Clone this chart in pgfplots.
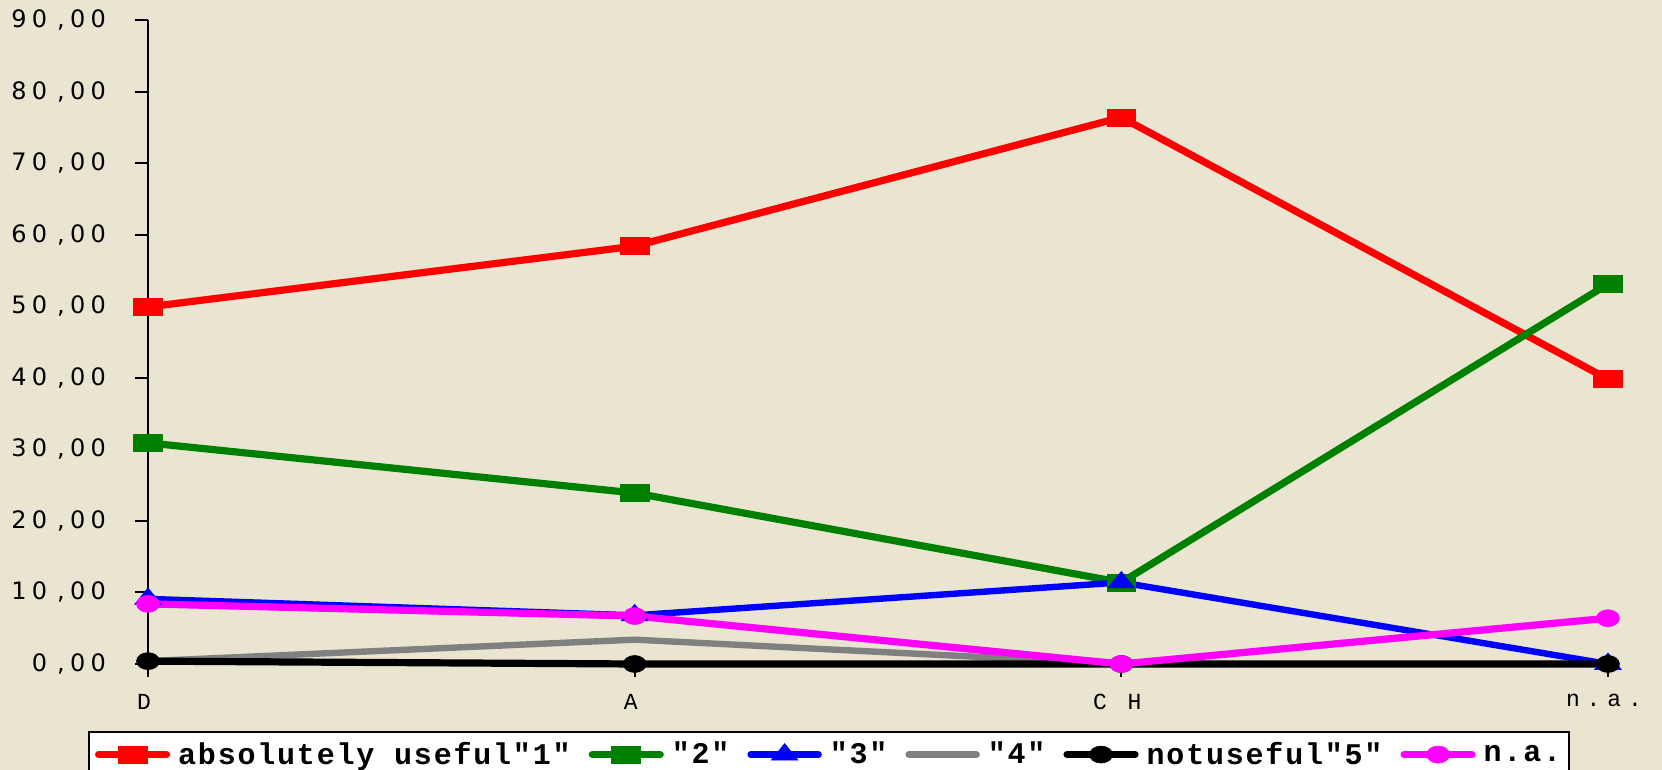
\documentclass[border=0pt]{standalone}
\usepackage{pgfplots}
\pgfplotsset{compat=1.18}
\usepackage{fontspec}
\newfontfamily\yfont{DejaVu Sans}[LetterSpace=22]
\newfontfamily\xfont{Liberation Mono}[LetterSpace=30]
\newfontfamily\legfont{Liberation Mono}[LetterSpace=6]
\definecolor{bg}{RGB}{233,229,209}
\definecolor{cgreen}{RGB}{0,128,0}
\definecolor{cgray}{RGB}{128,128,128}
\definecolor{cmag}{RGB}{255,0,255}
\definecolor{cred}{RGB}{255,0,0}
\definecolor{cblue}{RGB}{0,0,255}
\begin{document}
\begin{tikzpicture}
\useasboundingbox (-74pt,-53pt) rectangle (757pt,332pt);
\fill[bg] (-74pt,-53pt) rectangle (757pt,332pt);
\begin{axis}[
  at={(0pt,0pt)}, anchor=south west,
  scale only axis, width=730pt, height=322pt,
  xmin=0, xmax=3, ymin=0, ymax=90,
  axis x line*=bottom, axis y line*=left,
  axis line style={line width=1pt, black},
  tick style={line width=1pt, black},
  tick align=outside,
  major tick length=6.5pt,
  xtick={0,1,2,3}, xticklabels={D,A,C H,n.a.},
  ytick={0,10,20,30,40,50,60,70,80,90},
  yticklabels={{0\kern5pt,00},{10\kern5pt,00},{20\kern5pt,00},{30\kern5pt,00},{40\kern5pt,00},{50\kern5pt,00},{60\kern5pt,00},{70\kern5pt,00},{80\kern5pt,00},{90\kern5pt,00}},
  xticklabel style={font=\fontsize{11.5}{13}\selectfont\xfont, yshift=-5pt, xshift=-2pt},
  yticklabel style={font=\fontsize{12}{14}\selectfont\yfont, xshift=-11pt},
  clip=false,
  legend columns=-1,
  legend style={at={(-0.0411,-0.104)}, anchor=north west, draw=black, line width=1pt, fill=white,
    font=\fontsize{15}{17}\selectfont\legfont\bfseries,
    nodes={inner xsep=1pt},
    /tikz/every odd column/.append style={column sep=3pt},
    /tikz/every even column/.append style={column sep=8pt},
    inner xsep=3pt, inner ysep=3pt},
  legend image code/.code={\draw[mark repeat=2,mark phase=2,line cap=round] plot coordinates {(0pt,0pt)(17pt,0pt)(34pt,0pt)};},
  every axis plot/.append style={line width=3.6pt},
]
\addplot[cred, mark=square*, mark size=4.25pt, mark options={line width=0.3pt, xscale=1.7, fill=cred, draw=cred}]
  coordinates {(0,49.9)(1,58.4)(2,76.4)(3,39.8)};
\addlegendentry{absolutely useful"1"}
\addplot[cgreen, mark=square*, mark size=4.25pt, mark options={line width=0.3pt, xscale=1.7, fill=cgreen, draw=cgreen}]
  coordinates {(0,30.9)(1,23.9)(2,11.4)(3,53.1)};
\addlegendentry{"2"}
\addplot[cblue, line width=3.2pt, mark=triangle*, mark size=5.5pt, mark options={line width=0.3pt, xscale=1.4, fill=cblue, draw=cblue}]
  coordinates {(0,9.1)(1,6.8)(2,11.4)(3,0)};
\addlegendentry{"3"}
\addplot[cgray, line width=3.2pt, no marks]
  coordinates {(0,0.4)(1,3.4)(2,0)(3,0)};
\addlegendentry{"4"}
\addplot[black, mark=*, mark size=4.25pt, mark options={line width=0.3pt, xscale=1.35, fill=black, draw=black}]
  coordinates {(0,0.4)(1,0)(2,0)(3,0)};
\addlegendentry{notuseful"5"}
\addplot[cmag, mark=*, mark size=4.25pt, mark options={line width=0.3pt, xscale=1.35, fill=cmag, draw=cmag}]
  coordinates {(0,8.4)(1,6.7)(2,0)(3,6.4)};
\addlegendentry{n.a.}
\end{axis}
\end{tikzpicture}
\end{document}
